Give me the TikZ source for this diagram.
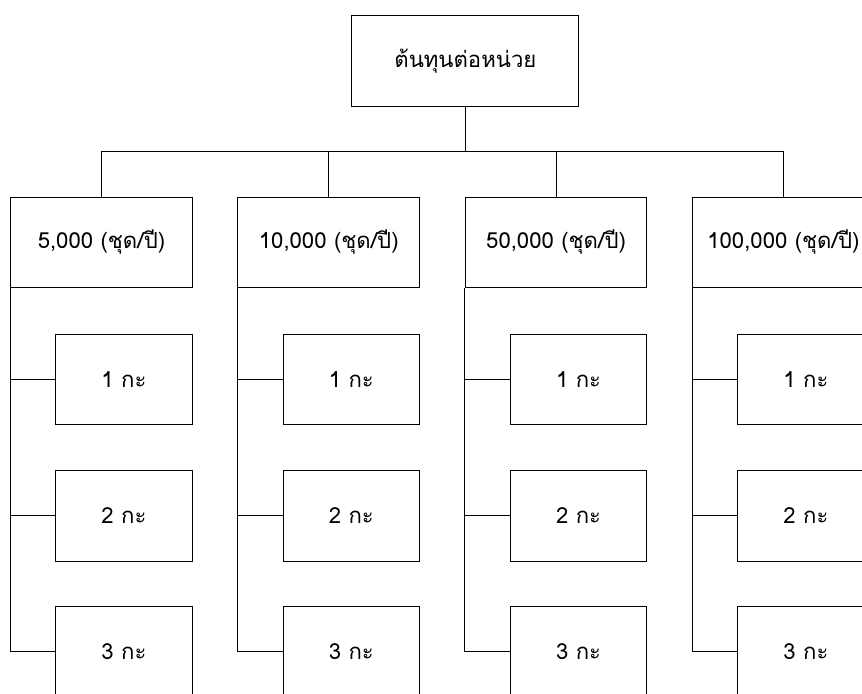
\documentclass[tikz,border=0pt]{standalone}
\usepackage{fontspec}
\newfontfamily\thaifont[Script=Thai]{Loma}
\usetikzlibrary{positioning}

\begin{document}
\begin{tikzpicture}[x=0.75pt,y=-0.75pt,line width=0.75pt,
		box/.style={draw,rectangle,inner sep=0pt,font=\thaifont\fontsize{16.6}{19}\selectfont},
		topbox/.style={box,minimum width=170.3pt,minimum height=68.5pt},
		qtybox/.style={box,minimum width=136.3pt,minimum height=67.8pt},
		shiftbox/.style={box,minimum width=102.4pt,minimum height=68.2pt}]
			\useasboundingbox (0,0) rectangle (862,693);
			\clip (0,0) rectangle (862,693);
			
			\def\dx{227.3}
			\def\dy{136.1}
			
			\node[topbox] (cost) at (465.4,61) {ต้นทุนต่อหน่วย};
			\coordinate (bus) at (0,151.7);
			
			\foreach \i/\q in {0/{5,000},1/{10,000},2/{50,000},3/{100,000}}{
				\node[qtybox] (q\i) at (101.5+\i*\dx,242.5) {\q\ (ชุด/ปี)};
				\draw (cost.south) -- (cost.south |- bus) -| (q\i.north);
				\foreach \j in {1,2,3}{
					\node[shiftbox] (s\i\j) at (124+\i*\dx,379.5+\j*\dy-\dy) {\j\ กะ};
					\draw (q\i.south west) |- (s\i\j.west);
				}
			}
		\end{tikzpicture}
\end{document}
